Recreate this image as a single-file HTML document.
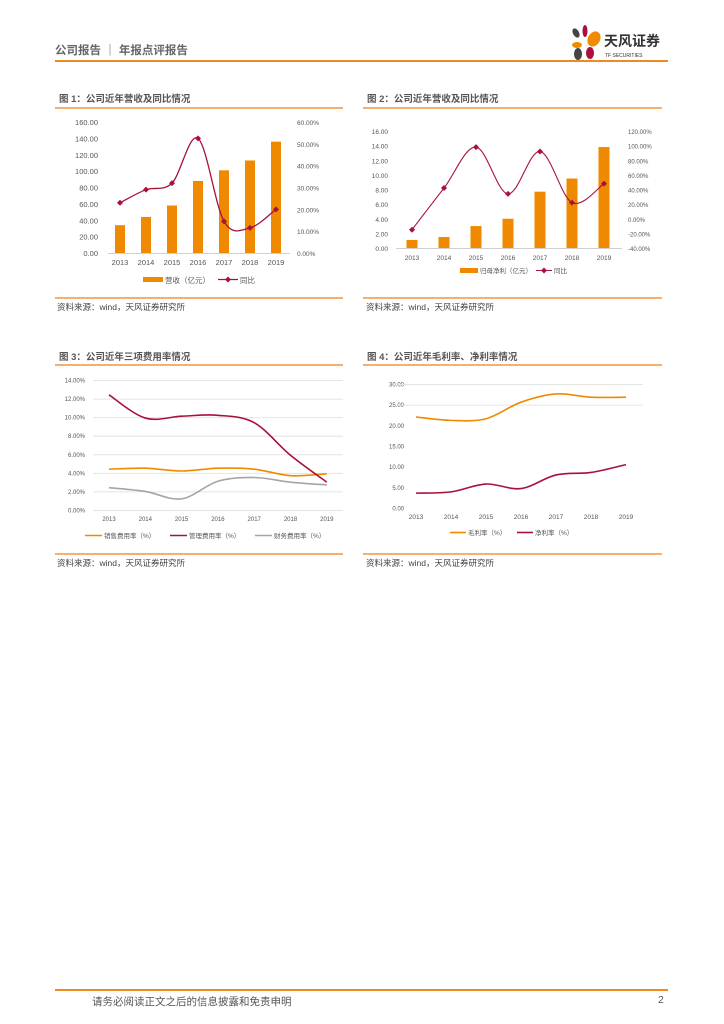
<!DOCTYPE html>
<html><head><meta charset="utf-8">
<style>
body{margin:0;width:724px;height:1024px;background:#fff;position:relative;font-family:"Liberation Sans","Noto Sans CJK SC",sans-serif;overflow:hidden}
.abs{position:absolute}
.title{font-size:9.5px;font-weight:bold;color:#555}
.src{font-size:8.5px;color:#444}
.oline{position:absolute;height:1.5px;background:#f5b070}
</style></head><body>
<div class="abs" style="left:55px;top:42px;font-size:11.5px;font-weight:bold;color:#666">公司报告 ｜ 年报点评报告</div>
<div class="abs" style="left:55px;top:60px;width:613px;height:2px;background:#ef8a22"></div>
<svg class="abs" style="left:568px;top:24px" width="102" height="36">
<ellipse cx="8" cy="9" rx="3" ry="5" fill="#444" transform="rotate(-30 8 9)"/>
<ellipse cx="17" cy="7" rx="2.5" ry="6" fill="#a8123a"/>
<ellipse cx="26" cy="15" rx="6" ry="8" fill="#f08a00" transform="rotate(30 26 15)"/>
<ellipse cx="9" cy="21" rx="5" ry="3" fill="#f08a00"/>
<ellipse cx="10" cy="30" rx="4" ry="6" fill="#444"/>
<ellipse cx="22" cy="29" rx="4" ry="6" fill="#a8123a"/>
<text x="36" y="22" font-size="14" font-weight="bold" fill="#333" font-family="Liberation Sans,Noto Sans CJK SC,sans-serif">天风证券</text>
<text x="37" y="33" font-size="5" fill="#333" font-family="Liberation Sans,sans-serif">TF SECURITIES</text>
</svg>

<div class="abs title" style="left:59px;top:91px">图 1：公司近年营收及同比情况</div>
<div class="oline" style="left:55px;top:107px;width:288px"></div>
<div class="oline" style="left:55px;top:297px;width:288px"></div>
<div class="abs src" style="left:57px;top:301px">资料来源：wind，天风证券研究所</div>

<div class="abs title" style="left:367px;top:91px">图 2：公司近年营收及同比情况</div>
<div class="oline" style="left:363px;top:107px;width:299px"></div>
<div class="oline" style="left:363px;top:297px;width:299px"></div>
<div class="abs src" style="left:366px;top:301px">资料来源：wind，天风证券研究所</div>

<div class="abs title" style="left:59px;top:349px">图 3：公司近年三项费用率情况</div>
<div class="oline" style="left:55px;top:364px;width:288px"></div>
<div class="oline" style="left:55px;top:553px;width:288px"></div>
<div class="abs src" style="left:57px;top:557px">资料来源：wind，天风证券研究所</div>

<div class="abs title" style="left:367px;top:349px">图 4：公司近年毛利率、净利率情况</div>
<div class="oline" style="left:363px;top:364px;width:299px"></div>
<div class="oline" style="left:363px;top:553px;width:299px"></div>
<div class="abs src" style="left:366px;top:557px">资料来源：wind，天风证券研究所</div>

<svg class="abs" id="charts" style="left:0;top:0" width="724" height="1024"></svg>

<div class="abs" style="left:55px;top:989px;width:613px;height:2px;background:#ef8a22"></div>
<div class="abs" style="left:92px;top:994px;font-size:10.5px;color:#555">请务必阅读正文之后的信息披露和免责申明</div>
<div class="abs" style="left:658px;top:994px;font-size:10.5px;color:#555">2</div>

<script>
const years = ["2013","2014","2015","2016","2017","2018","2019"];
const revenue = [34,44,58,88,101,113,136];
const revenueYoy = [23,29,32,52.5,14.5,11.5,20];
const profit = [1.1,1.5,3.0,4.0,7.7,9.5,13.8];
const profitYoy = [-15,42,98,34,92,22,48];
const salesRate = [4.4,4.5,4.2,4.5,4.4,3.7,3.9];
const adminRate = [12.4,9.9,10.1,10.2,9.4,5.9,3.0];
const finRate = [2.4,2.0,1.2,3.1,3.5,3.0,2.7];
const grossMargin = [22,21.2,21.6,25.6,27.6,26.8,26.8];
const netMargin = [3.6,3.9,5.8,4.7,8.0,8.6,10.5];
const ticks1L = ["0.00","20.00","40.00","60.00","80.00","100.00","120.00","140.00","160.00"];
const ticks1R = ["0.00%","10.00%","20.00%","30.00%","40.00%","50.00%","60.00%"];
const ticks2L = ["0.00","2.00","4.00","6.00","8.00","10.00","12.00","14.00","16.00"];
const ticks2R = ["-40.00%","-20.00%","0.00%","20.00%","40.00%","60.00%","80.00%","100.00%","120.00%"];
const ticks3 = ["0.00%","2.00%","4.00%","6.00%","8.00%","10.00%","12.00%","14.00%"];
const ticks4 = ["0.00","5.00","10.00","15.00","20.00","25.00","30.00"];

const svg = document.getElementById('charts');
const NS = 'http://www.w3.org/2000/svg';
function mk(tag, attrs, parent){const e=document.createElementNS(NS,tag);for(const k in attrs)e.setAttribute(k,attrs[k]);(parent||svg).appendChild(e);return e;}
function txt(x,y,s,anchor,size,name){const t=mk('text',{x:x,y:y,'text-anchor':anchor,'font-size':size,fill:'#555','font-family':'Liberation Sans,Noto Sans CJK SC,sans-serif'});t.textContent=s;


return t;}
function lin(d0,d1,r0,r1){return v=>r0+(v-d0)*(r1-r0)/(d1-d0);}
function smooth(pts){let d='M'+pts[0][0]+','+pts[0][1];for(let i=0;i<pts.length-1;i++){const p0=pts[Math.max(0,i-1)],p1=pts[i],p2=pts[i+1],p3=pts[Math.min(pts.length-1,i+2)];const c1x=p1[0]+(p2[0]-p0[0])/6,c1y=p1[1]+(p2[1]-p0[1])/6,c2x=p2[0]-(p3[0]-p1[0])/6,c2y=p2[1]-(p3[1]-p1[1])/6;d+=' C'+c1x+','+c1y+' '+c2x+','+c2y+' '+p2[0]+','+p2[1];}return d;}
function line(pts,color,w,name){const p=mk('path',{d:smooth(pts),fill:'none',stroke:color,'stroke-width':w});


return p;}
function marker(x,y,name){const m=mk('path',{d:`M${x},${y-3}L${x+3},${y}L${x},${y+3}L${x-3},${y}Z`,fill:'#a8123a'});

}
const ORANGE='#ef8a00', RED='#a8123a', GRAY='#a5a5a5';

// Chart 1
{const x=i=>120+i*26, y=lin(0,160,253,122), yr=lin(0,60,253,122);
ticks1L.forEach((t,i)=>txt(98,y(i*20)+3,t,'end',7.5,'chart1-left-tick'));
ticks1R.forEach((t,i)=>txt(297,yr(i*10)+3,t,'start',6.5,'chart1-right-tick'));
mk('line',{x1:108,x2:290,y1:253.5,y2:253.5,stroke:'#d0d0d0'});
years.forEach((t,i)=>txt(x(i),265,t,'middle',7.5,'chart1-x-tick'));
revenue.forEach((v,i)=>{const r=mk('rect',{x:x(i)-5,y:y(v),width:10,height:253-y(v),fill:ORANGE});

});
line(revenueYoy.map((v,i)=>[x(i),yr(v)]),RED,1.3,'revenue-yoy-line');
revenueYoy.forEach((v,i)=>marker(x(i),yr(v),'revenue-yoy-point'));
const s=mk('rect',{x:143,y:277,width:20,height:5,fill:ORANGE});


txt(165,283,'营收（亿元）','start',7.5,'legend-revenue');
mk('line',{x1:218,x2:238,y1:279.5,y2:279.5,stroke:RED,'stroke-width':1.3});
marker(228,279.5,'legend-yoy-marker');
txt(240,283,'同比','start',7.5,'legend-yoy');}

// Chart 2
{const x=i=>412+i*32, y=lin(0,16,248,131), yr=lin(-40,120,248,131);
ticks2L.forEach((t,i)=>txt(388,y(i*2)+3,t,'end',6.5,'chart2-left-tick'));
ticks2R.forEach((t,i)=>txt(628,yr(-40+i*20)+3,t,'start',6,'chart2-right-tick'));
mk('line',{x1:396,x2:622,y1:248.5,y2:248.5,stroke:'#d0d0d0'});
years.forEach((t,i)=>txt(x(i),260,t,'middle',6.5,'chart2-x-tick'));
profit.forEach((v,i)=>{const r=mk('rect',{x:x(i)-5.5,y:y(v),width:11,height:248-y(v),fill:ORANGE});

});
line(profitYoy.map((v,i)=>[x(i),yr(v)]),RED,1.1,'profit-yoy-line');
profitYoy.forEach((v,i)=>marker(x(i),yr(v),'profit-yoy-point'));
const s=mk('rect',{x:460,y:268,width:18,height:5,fill:ORANGE});


txt(480,273,'归母净利（亿元）','start',6.5,'legend-profit');
mk('line',{x1:536,x2:552,y1:270.5,y2:270.5,stroke:RED,'stroke-width':1});
marker(544,270.5,'legend-yoy-marker');
txt(554,273,'同比','start',6.5,'legend-yoy');}

// Chart 3
{const x=i=>109+i*36.3, y=lin(0,14,510,380);
ticks3.forEach((t,i)=>{txt(85,y(i*2)+2.5,t,'end',6,'chart3-y-tick');
mk('line',{x1:93,x2:343,y1:y(i*2)+.5,y2:y(i*2)+.5,stroke:'#e4e4e4'});});
years.forEach((t,i)=>txt(x(i),521,t,'middle',6,'chart3-x-tick'));
line(salesRate.map((v,i)=>[x(i),y(v)]),ORANGE,1.6,'sales-rate-line');
line(adminRate.map((v,i)=>[x(i),y(v)]),RED,1.6,'admin-rate-line');
line(finRate.map((v,i)=>[x(i),y(v)]),GRAY,1.6,'finance-rate-line');
[[85,ORANGE,'销售费用率（%）','legend-sales'],[170,RED,'管理费用率（%）','legend-admin'],[255,GRAY,'财务费用率（%）','legend-finance']].forEach(l=>{
mk('line',{x1:l[0],x2:l[0]+17,y1:535.5,y2:535.5,stroke:l[1],'stroke-width':1.6});
txt(l[0]+19,538,l[2],'start',6.5,l[3]);});}

// Chart 4
{const x=i=>416+i*35, y=lin(0,30,508,384);
ticks4.forEach((t,i)=>txt(404,y(i*5)+2.5,t,'end',6,'chart4-y-tick'));
[25,30].forEach(v=>mk('line',{x1:400,x2:643,y1:y(v)+.5,y2:y(v)+.5,stroke:'#e4e4e4'}));
years.forEach((t,i)=>txt(x(i),519,t,'middle',6.5,'chart4-x-tick'));
line(grossMargin.map((v,i)=>[x(i),y(v)]),ORANGE,1.6,'gross-margin-line');
line(netMargin.map((v,i)=>[x(i),y(v)]),RED,1.6,'net-margin-line');
[[450,ORANGE,'毛利率（%）','legend-gross'],[517,RED,'净利率（%）','legend-net']].forEach(l=>{
mk('line',{x1:l[0],x2:l[0]+16,y1:532.5,y2:532.5,stroke:l[1],'stroke-width':1.6});
txt(l[0]+18,535,l[2],'start',6.5,l[3]);});}
</script>
</body></html>
